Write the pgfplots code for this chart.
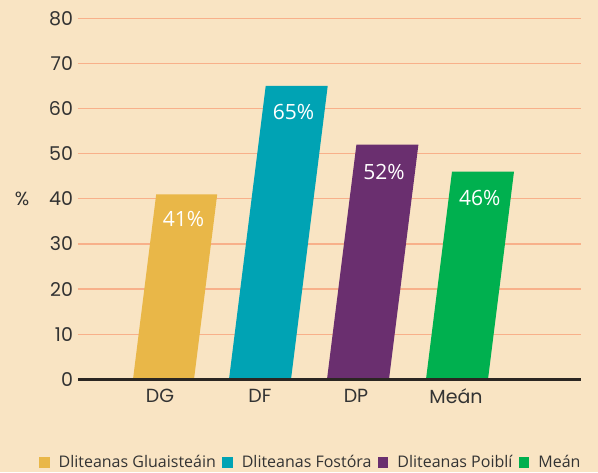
\documentclass[border=0pt]{standalone}
\usepackage{fontspec}
\usepackage{pgfplots}
\pgfplotsset{compat=1.18}
\setmainfont{Open Sans}
\newfontfamily\tickfont{Poppins}
\newfontfamily\barfont{Open Sans}
\newfontfamily\legfont{Open Sans}
\newcommand{\lf}{\legfont\fontsize{16}{19}\selectfont}
\definecolor{bg}{HTML}{F9E4C3}
\definecolor{gridc}{HTML}{F8B08A}
\definecolor{cDG}{HTML}{E9B748}
\definecolor{cDF}{HTML}{00A3B4}
\definecolor{cDP}{HTML}{6A2F6F}
\definecolor{cME}{HTML}{00B04F}
\definecolor{axc}{HTML}{2B2622}
\definecolor{txt}{HTML}{333333}
\begin{document}
\begin{tikzpicture}
\useasboundingbox (0,0) rectangle (598pt,472pt);
\fill[bg] (0,0) rectangle (598pt,472pt);
\begin{axis}[
  at={(78pt,92.7pt)}, anchor=south west,
  scale only axis, width=503pt, height=361pt,
  xmin=78, xmax=581, ymin=0, ymax=80,
  clip=false,
  axis line style={draw=none},
  major tick length=0pt,
  ytick={0,10,...,80},
  ymajorgrids, grid style={gridc, line width=1.2pt},
  xtick={160,260,356,456},
  xticklabels={DG,DF,DP,Meán},
  /pgf/number format/assume math mode=true,
  ticklabel style={font=\tickfont\fontsize{19}{22}\selectfont, text=txt},
  yticklabel style={xshift=-1.5pt},
  xticklabel style={yshift=-6pt},
  ylabel={\%},
  ylabel style={rotate=-90, at={(axis description cs:-0.111,0.5)}, anchor=center, font=\tickfont\fontsize{19}{22}\selectfont, text=txt},
  legend columns=4,
  legend style={at={(axis description cs:0.463,-0.2305)}, anchor=center, draw=none, fill=none,
    font=\lf, text=txt,
    /tikz/every odd column/.append style={column sep=7pt},
    /tikz/every even column/.append style={column sep=4.5pt}},
  legend image code/.code={\fill[#1] (0pt,-5.2pt) rectangle (10.4pt,5.2pt);},
]
\addplot[fill=cDG, draw=none] coordinates {(133,0) (194,0) (217.2,41) (156.2,41) (133,0)};
\addlegendentry{\lf Dliteanas Gluaisteáin}
\addplot[fill=cDF, draw=none] coordinates {(229,0) (291,0) (327.7,65) (265.7,65) (229,0)};
\addlegendentry{\lf Dliteanas Fostóra}
\addplot[fill=cDP, draw=none] coordinates {(327,0) (389,0) (418.4,52) (356.4,52) (327,0)};
\addlegendentry{\lf Dliteanas Poiblí}
\addplot[fill=cME, draw=none] coordinates {(426,0) (488,0) (514,46) (452,46) (426,0)};
\addlegendentry{\lf Meán}
\addplot[axc, line width=2.6pt, forget plot] coordinates {(78,0) (581,0)};
\node[text=white, font=\barfont\fontsize{21}{25}\selectfont] at (axis cs:183.5,35.5) {41\%};
\node[text=white, font=\barfont\fontsize{21}{25}\selectfont] at (axis cs:293.5,59.3) {65\%};
\node[text=white, font=\barfont\fontsize{21}{25}\selectfont] at (axis cs:384,46.0) {52\%};
\node[text=white, font=\barfont\fontsize{21}{25}\selectfont] at (axis cs:479.7,40.2) {46\%};
\end{axis}
\end{tikzpicture}
\end{document}
